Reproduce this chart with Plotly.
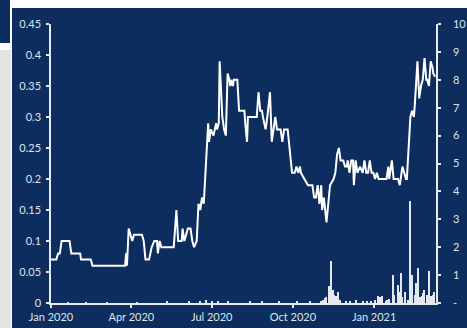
import plotly.graph_objects as go

# ---- data ----
line_dates = [
    "2020-01-01", "2020-01-07", "2020-01-09", "2020-01-11", "2020-01-13", "2020-01-22",
    "2020-01-24", "2020-02-03", "2020-02-04", "2020-02-15", "2020-02-17", "2020-03-25",
    "2020-03-26", "2020-03-27", "2020-03-29", "2020-03-30", "2020-04-02", "2020-04-04",
    "2020-04-13", "2020-04-15", "2020-04-17", "2020-04-21", "2020-04-24", "2020-04-27",
    "2020-04-30", "2020-05-01", "2020-05-03", "2020-05-05", "2020-05-19", "2020-05-22",
    "2020-05-24", "2020-05-28", "2020-05-29", "2020-05-31", "2020-06-04", "2020-06-07",
    "2020-06-09", "2020-06-11", "2020-06-14", "2020-06-16", "2020-06-18", "2020-06-20",
    "2020-06-22", "2020-06-27", "2020-06-28", "2020-06-30", "2020-07-03", "2020-07-06",
    "2020-07-07", "2020-07-09", "2020-07-10", "2020-07-13", "2020-07-15", "2020-07-17",
    "2020-07-19", "2020-07-21", "2020-07-22", "2020-07-23", "2020-07-25", "2020-07-26",
    "2020-07-30", "2020-08-01", "2020-08-07", "2020-08-08", "2020-08-10", "2020-08-11",
    "2020-08-21", "2020-08-23", "2020-08-25", "2020-08-27", "2020-08-28", "2020-08-31",
    "2020-09-02", "2020-09-05", "2020-09-07", "2020-09-08", "2020-09-11", "2020-09-13",
    "2020-09-17", "2020-09-19", "2020-09-21", "2020-09-25", "2020-09-27", "2020-09-30",
    "2020-10-03", "2020-10-05", "2020-10-07", "2020-10-09", "2020-10-10", "2020-10-14",
    "2020-10-18", "2020-10-23", "2020-10-25", "2020-10-27", "2020-10-29", "2020-10-31",
    "2020-11-02", "2020-11-03", "2020-11-05", "2020-11-08", "2020-11-11", "2020-11-12",
    "2020-11-16", "2020-11-18", "2020-11-20", "2020-11-22", "2020-11-24", "2020-11-27",
    "2020-11-29", "2020-12-01", "2020-12-02", "2020-12-04", "2020-12-06", "2020-12-08",
    "2020-12-09", "2020-12-11", "2020-12-13", "2020-12-16", "2020-12-19", "2020-12-21",
    "2020-12-23", "2020-12-25", "2020-12-27", "2020-12-29", "2020-12-31", "2021-01-02",
    "2021-01-04", "2021-01-06", "2021-01-15", "2021-01-17", "2021-01-18", "2021-01-21",
    "2021-01-23", "2021-01-28", "2021-01-30", "2021-02-02", "2021-02-04", "2021-02-06",
    "2021-02-07", "2021-02-11", "2021-02-13", "2021-02-15", "2021-02-16", "2021-02-19",
    "2021-02-21", "2021-02-23", "2021-02-25", "2021-02-27", "2021-03-01", "2021-03-02",
    "2021-03-04", "2021-03-06", "2021-03-08", "2021-03-09", "2021-03-11",
]
line_vals = [
    0.07, 0.07, 0.08, 0.08, 0.10, 0.10,
    0.08, 0.08, 0.07, 0.07, 0.06, 0.06,
    0.08, 0.06, 0.12, 0.115, 0.10, 0.11,
    0.11, 0.10, 0.07, 0.07, 0.09, 0.10,
    0.10, 0.08, 0.10, 0.09, 0.09, 0.15,
    0.10, 0.10, 0.12, 0.10, 0.12, 0.12,
    0.10, 0.09, 0.10, 0.16, 0.15, 0.17,
    0.16, 0.29, 0.26, 0.28, 0.27, 0.29,
    0.28, 0.29, 0.39, 0.30, 0.28, 0.27,
    0.37, 0.36, 0.35, 0.36, 0.35, 0.36,
    0.36, 0.31, 0.31, 0.29, 0.26, 0.30,
    0.30, 0.34, 0.31, 0.31, 0.30, 0.28,
    0.30, 0.34, 0.26, 0.27, 0.30, 0.28,
    0.28, 0.26, 0.28, 0.28, 0.25, 0.21,
    0.21, 0.22, 0.21, 0.22, 0.21, 0.20,
    0.19, 0.19, 0.17, 0.17, 0.19, 0.16,
    0.19, 0.15, 0.17, 0.13, 0.17, 0.19,
    0.20, 0.21, 0.24, 0.25, 0.23, 0.23,
    0.22, 0.22, 0.23, 0.21, 0.23, 0.23,
    0.19, 0.23, 0.21, 0.22, 0.21, 0.23,
    0.21, 0.21, 0.23, 0.21, 0.21, 0.20,
    0.21, 0.20, 0.20, 0.22, 0.20, 0.23,
    0.20, 0.20, 0.19, 0.22, 0.21, 0.20,
    0.20, 0.30, 0.31, 0.30, 0.32, 0.39,
    0.33, 0.35, 0.36, 0.395, 0.36, 0.36,
    0.35, 0.39, 0.38, 0.37, 0.365,
]

bar_dates = [
    "2020-01-20", "2020-02-10", "2020-03-05", "2020-04-08", "2020-05-12", "2020-06-05",
    "2020-06-18", "2020-06-25", "2020-07-02", "2020-07-08", "2020-07-20", "2020-08-14",
    "2020-08-27", "2020-09-15", "2020-10-06", "2020-10-20", "2020-11-02", "2020-11-04",
    "2020-11-06", "2020-11-08", "2020-11-11", "2020-11-13", "2020-11-15", "2020-11-17",
    "2020-11-19", "2020-11-21", "2020-11-23", "2020-11-30", "2020-12-05", "2020-12-12",
    "2020-12-19", "2020-12-24", "2020-12-29", "2021-01-02", "2021-01-06", "2021-01-08",
    "2021-01-10", "2021-01-14", "2021-01-16", "2021-01-18", "2021-01-22", "2021-01-24",
    "2021-01-28", "2021-01-30", "2021-02-01", "2021-02-02", "2021-02-05", "2021-02-08",
    "2021-02-11", "2021-02-13", "2021-02-16", "2021-02-18", "2021-02-20", "2021-02-22",
    "2021-02-24", "2021-02-25", "2021-02-27", "2021-03-02", "2021-03-04", "2021-03-06",
    "2021-03-09", "2021-03-10",
]
bar_vals = [
    0.03, 0.03, 0.03, 0.03, 0.04, 0.05,
    0.08, 0.12, 0.08, 0.06, 0.05, 0.04,
    0.08, 0.04, 0.05, 0.04, 0.08, 0.12,
    0.18, 0.2, 0.6, 1.51, 0.48, 0.3,
    0.25, 0.38, 0.1, 0.08, 0.06, 0.1,
    0.08, 0.05, 0.08, 0.1, 0.26, 0.2,
    0.25, 0.06, 0.1, 0.15, 1.01, 0.3,
    0.65, 0.4, 1.07, 0.2, 0.38, 0.1,
    3.64, 1.0, 0.3, 0.72, 1.25, 0.2,
    0.25, 0.35, 0.45, 0.3, 1.13, 0.25,
    0.3, 0.4,
]

left_ticks = [0, 0.05, 0.1, 0.15, 0.2, 0.25, 0.3, 0.35, 0.4, 0.45]
left_labels = ["0", "0.05", "0.1", "0.15", "0.2", "0.25", "0.3", "0.35", "0.4", "0.45"]
right_ticks = [0, 1, 2, 3, 4, 5, 6, 7, 8, 9, 10]
right_labels = ["-", "1", "2", "3", "4", "5", "6", "7", "8", "9", "10"]
x_ticks = ["2020-01-01", "2020-04-01", "2020-07-01", "2020-10-01", "2021-01-01"]
x_labels = ["Jan 2020", "Apr 2020", "Jul 2020", "Oct 2020", "Jan 2021"]

# ---- styling ----
W, H = 467, 328
ML, MR, MT, MB = 51, 31, 24, 25
PW, PH = W - ML - MR, H - MT - MB
NAVY = "#0c2d5e"
TXT = "#dfe5ee"
AX = "#e8ecf2"
FONT = "Lato"


def px_x(p):
    return (p - ML) / PW


def px_y(p):
    return (H - MB - p) / PH


fig = go.Figure()
fig.add_trace(go.Bar(
    x=bar_dates, y=bar_vals, yaxis="y2",
    marker=dict(color="#e4e7ee", line=dict(width=0)),
    width=1.5 * 86400000, showlegend=False,
))
fig.add_trace(go.Scatter(
    x=line_dates, y=line_vals, mode="lines",
    line=dict(color="#ffffff", width=2), showlegend=False,
))

shapes = [
    dict(type="rect", xref="paper", yref="paper", layer="below",
         x0=px_x(12), x1=px_x(470), y0=px_y(8), y1=px_y(331),
         fillcolor=NAVY, line=dict(width=0)),
    dict(type="rect", xref="paper", yref="paper", layer="below",
         x0=px_x(-3), x1=px_x(10), y0=px_y(-3), y1=px_y(43),
         fillcolor=NAVY, line=dict(width=0)),
    dict(type="rect", xref="paper", yref="paper", layer="below",
         x0=px_x(-3), x1=px_x(11), y0=px_y(50), y1=px_y(331),
         fillcolor="#e4e4e4", line=dict(width=0)),
]

common = dict(
    showgrid=False, zeroline=False, automargin=False,
    showline=True, linecolor=AX, linewidth=1.5,
    ticks="outside", ticklen=3, tickcolor=AX, tickwidth=1.5,
    tickfont=dict(family=FONT, size=11, color=TXT),
)

fig.update_layout(
    width=W, height=H,
    margin=dict(l=ML, r=MR, t=MT, b=MB, pad=0, autoexpand=False),
    paper_bgcolor="#ffffff",
    plot_bgcolor="rgba(0,0,0,0)",
    font=dict(family=FONT, size=11, color=TXT),
    shapes=shapes,
    bargap=0,
    xaxis=dict(
        type="date", range=["2020-01-01", "2021-03-12"],
        tickvals=x_ticks, ticktext=x_labels, ticklabelstandoff=0,
        **common,
    ),
    yaxis=dict(
        range=[0, 0.45], tickvals=left_ticks, ticktext=left_labels,
        ticklabelstandoff=3,
        **common,
    ),
    yaxis2=dict(
        overlaying="y", side="right",
        range=[0, 10], tickvals=right_ticks, ticktext=right_labels,
        ticklabelstandoff=10,
        **common,
    ),
)

fig.write_html("out.html")
